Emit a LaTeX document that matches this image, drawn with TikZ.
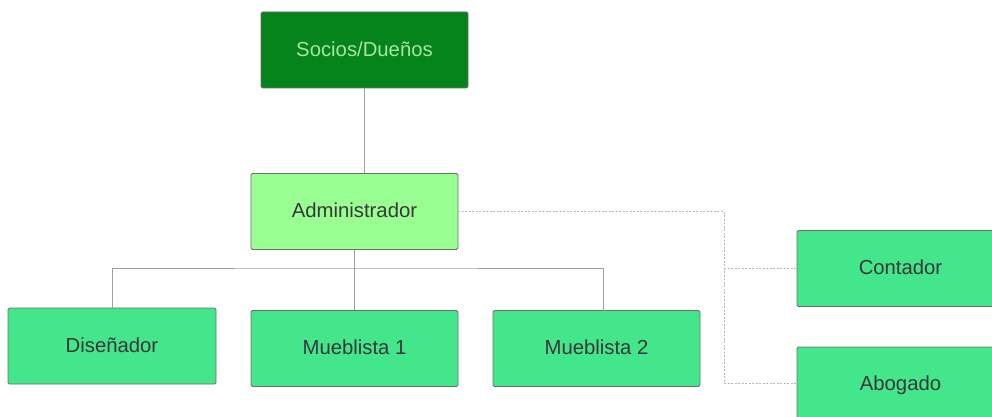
\documentclass[tikz,border=0pt]{standalone}
\usepackage{fontspec}
\setmainfont{Liberation Sans}
\definecolor{darkg}{HTML}{04841A}
\definecolor{lightg}{HTML}{9AFF92}
\definecolor{midg}{HTML}{44E68B}
\definecolor{txtdark}{HTML}{383838}
\definecolor{txtlight}{HTML}{A6E6A2}
\definecolor{edge}{HTML}{6E6E6E}
\definecolor{conn}{HTML}{A0A0A0}
\definecolor{dotc}{HTML}{B8B8B8}
\newcommand{\up}[1]{\raisebox{2.5pt}{#1}}
\begin{document}
\begin{tikzpicture}[x=1pt,y=-1pt,
  box/.style={draw=edge,line width=0.8pt,rounded corners=1.5pt,minimum width=207pt,minimum height=76pt,inner sep=0pt,font=\fontsize{20.3}{24}\selectfont,text=txtdark},
  solidc/.style={draw=conn,line width=0.9pt},
  dotcon/.style={draw=dotc,line width=1pt,dash pattern=on 2pt off 1.5pt}]
\useasboundingbox (0,0) rectangle (992,417);
\clip (0,0) rectangle (992,417);
\node[box,fill=darkg,text=txtlight] (socios) at (364.5,50) {\up{Socios/Dueños}};
\node[box,fill=lightg] (admin) at (354.5,211.5) {\up{Administrador}};
\node[box,fill=midg,minimum width=208pt] (dis) at (112,346) {\up{Diseñador}};
\node[box,fill=midg] (m1) at (354.5,348.5) {\up{Mueblista 1}};
\node[box,fill=midg] (m2) at (596.5,348.5) {\up{Mueblista 2}};
\node[box,fill=midg] (cont) at (900.5,268.5) {\up{Contador}};
\node[box,fill=midg] (abog) at (900.5,385) {\up{Abogado}};
\coordinate (bus) at (354.5,268);
\coordinate (dv) at (724,211.5);
\draw[solidc] (socios.south) -- (socios.south |- admin.north);
\draw[solidc] (admin.south) -- (bus);
\draw[solidc] (dis.north) |- (bus) -| (603,311);
\draw[solidc] (bus) -- (m1.north);
\draw[dotcon] (admin.east) -- (dv) |- (abog.west |- 0,383);
\draw[dotcon] (dv |- cont.west) -- (cont.west);
\end{tikzpicture}
\end{document}
